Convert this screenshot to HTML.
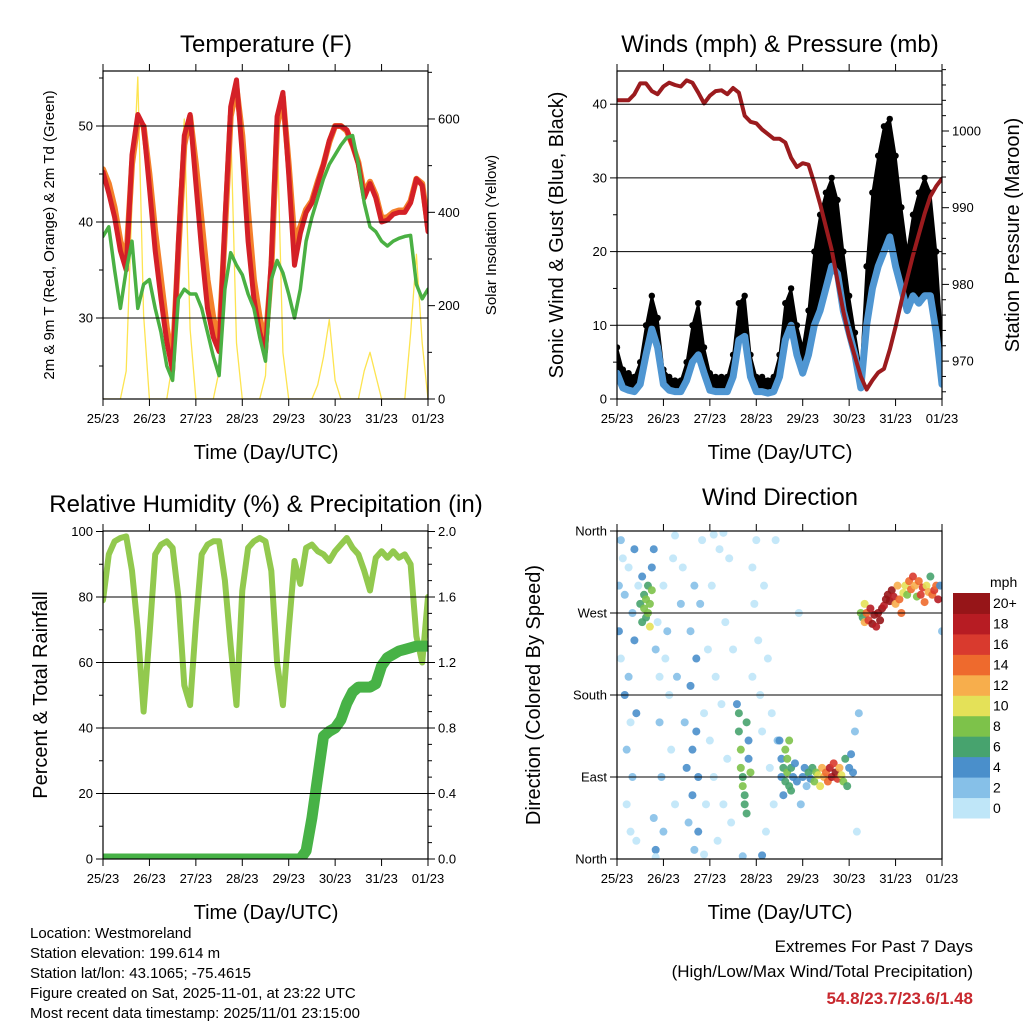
<!DOCTYPE html>
<html><head><meta charset="utf-8"><style>
html,body{margin:0;padding:0;background:#fff;}
svg{display:block;font-family:"Liberation Sans",sans-serif;}
</style></head><body>
<svg id="root" width="1024" height="1024" viewBox="0 0 1024 1024">
<defs>
<clipPath id="c1"><rect x="103" y="71" width="325" height="328"/></clipPath>
<clipPath id="c2"><rect x="617" y="71" width="325" height="328"/></clipPath>
<clipPath id="c3"><rect x="103" y="531" width="325" height="328"/></clipPath>
<clipPath id="c4"><rect x="617" y="531" width="325" height="328"/></clipPath>
</defs>
<g id="g1"></g>
<g id="g2"></g>
<g id="g3"></g>
<g id="g4"></g>
<text x="266" y="52" font-size="24" text-anchor="middle">Temperature (F)</text>
<text x="780" y="52" font-size="24" text-anchor="middle">Winds (mph) &amp; Pressure (mb)</text>
<text x="266" y="512" font-size="24" text-anchor="middle">Relative Humidity (%) &amp; Precipitation (in)</text>
<text x="780" y="505" font-size="24" text-anchor="middle">Wind Direction</text>
<text x="266" y="459" font-size="20" text-anchor="middle">Time (Day/UTC)</text>
<text x="780" y="459" font-size="20" text-anchor="middle">Time (Day/UTC)</text>
<text x="266" y="919" font-size="20" text-anchor="middle">Time (Day/UTC)</text>
<text x="780" y="919" font-size="20" text-anchor="middle">Time (Day/UTC)</text>
<text transform="translate(54,235) rotate(-90)" font-size="15" text-anchor="middle">2m &amp; 9m T (Red, Orange) &amp; 2m Td (Green)</text>
<text transform="translate(496,235) rotate(-90)" font-size="15" text-anchor="middle">Solar Insolation (Yellow)</text>
<text transform="translate(563,235) rotate(-90)" font-size="20" text-anchor="middle">Sonic Wind &amp; Gust (Blue, Black)</text>
<text transform="translate(1019,235) rotate(-90)" font-size="20" text-anchor="middle">Station Pressure (Maroon)</text>
<text transform="translate(47,695) rotate(-90)" font-size="20" text-anchor="middle">Percent &amp; Total Rainfall</text>
<text transform="translate(540,695) rotate(-90)" font-size="20" text-anchor="middle">Direction (Colored By Speed)</text>
<g font-size="15">
<text x="30" y="938">Location: Westmoreland</text>
<text x="30" y="958">Station elevation: 199.614 m</text>
<text x="30" y="978">Station lat/lon: 43.1065; -75.4615</text>
<text x="30" y="998">Figure created on Sat, 2025-11-01, at 23:22 UTC</text>
<text x="30" y="1018">Most recent data timestamp: 2025/11/01 23:15:00</text>
</g>
<g text-anchor="end">
<text x="973" y="952" font-size="17">Extremes For Past 7 Days</text>
<text x="973" y="977" font-size="17">(High/Low/Max Wind/Total Precipitation)</text>
<text x="973" y="1004" font-size="17" font-weight="bold" fill="#c8282e">54.8/23.7/23.6/1.48</text>
</g>
<g id="cbar"></g>
</svg>
<script>
// hours at 3-hour steps from 25/23 UTC
const hours = [];
for (let i = 0; i <= 56; i++) hours.push(i * 3);
const dayLabels = ["25/23","26/23","27/23","28/23","29/23","30/23","31/23","01/23"];
const temp2m = [45.2,43.0,40.5,37.0,35.0,47,51.2,50,43.6,37,32,27.5,24.5,38,49,51.2,44,37,31,28,26.5,40,52,54.8,47,38,32,28.5,26.5,36,51,53.5,45,35.5,38.8,41,42,44,46,48.5,50,50,49.6,48,46,42.5,44,42.5,40,40.2,40.8,41,41,42,44.5,43.8,39];
const temp9m = [45.5,44.0,41.5,38.0,36.0,46,50.5,50,45,39,34,29,25.5,37,48,51,46,40,34,30,27.5,39,51,54,49,41,34,30,27.5,35,50,53,46,38,39.5,41.3,42.2,44.2,46,48.3,50,50,49.5,48,46.2,43,44.2,42.8,40.4,40.5,41,41.2,41.2,42.2,44.5,44,39.5];
const dewpt = [38.5,39.5,35,31,35,38,31,33.5,34,31,28.5,25,23.5,32,33,32.5,32.5,31,28.5,26,24,33,36.8,35.5,34.5,32.5,31,28,25.5,34,36,34.7,32.5,30,33,38,40.5,42.5,44.5,46,47,48,48.8,49,46,42,39.5,39,38,37.5,38,38.3,38.5,38.6,33.5,32,33];
const solar = [0,0,0,0,60,420,690,180,0,0,0,0,80,420,600,150,0,0,0,0,60,380,590,120,0,0,0,0,50,330,580,100,0,0,0,0,0,30,90,170,40,0,0,0,0,60,100,50,0,0,0,0,0,140,310,120,0];
const windSpd = [3.5,1.5,1.2,1.0,2.0,6,9.5,7,2,1.2,1.0,1.0,2.5,5,6,3.5,1.2,1.0,1.0,1.0,3,8,8.5,3,1.0,1.0,0.8,1.0,3,8,10,6,3.5,6,10,12,15,18,17,12,9,6,1.5,10,15,18,20,22,18,15,12,14,13,14,14,9,2];
const gustSpd = [7,4,3.5,3,5,10,14,11,4,3,2.5,2.5,5,10,13,7,3.5,3,3,3,6,13,14,6,3,3,2.5,3,6,13,15,10,7,12,20,25,28,30,27,20,14,9,4,18,28,33,37,38,33,26,20,25,28,30,28,20,8];
const pressure = [1004.0,1004.0,1004.0,1004.8,1006.2,1006.2,1005.2,1004.8,1005.8,1006.3,1006.0,1005.8,1006.6,1006.3,1005.0,1003.6,1004.6,1005.2,1005.3,1004.8,1005.6,1005.0,1002.0,1001.2,1001.0,1000.2,999.6,999.0,999.0,998.5,996.5,995.3,995.8,995.6,993.2,990.5,987.5,984.5,980.5,976.5,973.2,970.6,968.0,966.3,967.5,968.5,969.0,971.5,974.5,977.8,980.8,983.8,986.5,989.2,991.5,992.8,993.8];
const relHum = [79,93,97,98,98.5,88,70,45,68,93,96,97,95,80,53,47,72,93,96,97,97,85,65,47,82,95,97,98,97,88,60,47,70,91,84,95,96,94,93,91,94,96,98,95,93,88,82,92,94,92,94,92,93,90,68,60,80];
const rainTotal = [0,0,0,0,0,0,0,0,0,0,0,0,0,0,0,0,0,0,0,0,0,0,0,0,0,0,0,0,0,0,0,0,0,0,0,0.05,0.25,0.5,0.75,0.78,0.8,0.85,0.95,1.02,1.05,1.05,1.05,1.07,1.18,1.23,1.25,1.27,1.28,1.29,1.3,1.3,1.3];
// wind direction observations: hour, direction (deg), speed (mph)
const dirHour = [1,1,2,2,3,4,4,5,5,6,6,7,7,8,8,9,9,10,10,11,12,13,13,14,14,15,15,16,16,17,17,18,18,19,19,20,20,21,22,22,23,24,24,25,26,27,28,29,30,31,33,34,35,36,37,38,38,39,39,40,40,41,41,42,42,43,44,45,46,47,48,49,50,51,52,53,54,55,56,57,58,59,60,62,63,63,64,64,65,65,66,66,67,67,68,68,69,70,70,71,72,73,74,75,76,77,78,79,80,81,82,83,84,85,85,86,86,87,87,88,88,89,89,90,90,91,92,93,94,95,96,97,98,99,100,101,102,103,104,105,106,107,108,109,110,111,112,113,114,115,116,117,118,119,120,121,122,123,124,125,126,127,128,128,129,130,131,132,133,134,135,136,137,138,139,140,141,142,143,144,145,146,147,148,149,150,151,152,153,154,155,156,157,158,159,160,161,162,163,164,165,166,167,168,30,45,55,65,20,50,75];
const dirDeg = [300,250,350,220,330,290,180,120,60,320,200,150,30,270,90,340,240,20,160,300,280,310,260,275,290,285,265,300,270,280,255,320,295,340,45,10,230,260,200,150,90,300,30,220,250,180,120,330,60,200,280,320,150,100,40,250,190,120,70,300,10,220,140,90,30,280,350,160,60,230,130,300,90,200,20,340,170,60,260,110,330,40,230,170,160,140,120,100,90,80,70,60,50,150,110,130,95,200,320,280,350,240,180,140,300,30,220,100,160,60,350,130,130,110,90,100,70,120,85,110,95,80,130,100,75,90,105,85,270,60,90,100,80,95,88,100,85,95,92,80,100,90,95,85,100,90,105,95,88,100,92,85,110,80,100,115,95,140,30,160,270,265,280,260,270,262,275,258,268,255,270,262,275,278,285,290,283,295,288,280,300,285,270,292,300,290,305,296,310,300,288,305,290,298,282,300,293,310,290,295,300,285,300,250,355,5,358,3,2,356,4];
const dirSpd = [3,4,2,1,1,3,4,2,1,1,2,1,1,3,2,5,4,1,4,1,6,4,7,8,7,9,6,7,8,9,10,4,8,4,2,5,2,1,1,2,3,1,2,1,2,1,1,1,1,2,2,1,3,4,3,3,4,4,4,3,3,4,5,4,4,2,1,1,1,1,1,1,1,1,1,1,1,1,1,1,1,1,1,4,6,7,8,8,7,8,6,7,6,7,5,4,8,1,1,1,1,1,1,1,1,1,1,1,1,1,1,2,4,5,4,7,5,8,7,9,8,6,8,7,7,5,4,4,1,2,5,4,3,6,5,7,8,9,10,11,13,12,14,15,18,19,17,20,16,13,11,8,6,6,5,4,4,3,1,2,9,6,11,13,14,16,18,20,20,19,20,21,20,19,20,21,20,20,19,12,13,14,15,11,10,8,14,15,16,12,9,14,17,16,15,11,13,6,14,16,15,18,4,3,1,1,1,2,1,1,4];
const speedBins = ["0","2","4","6","8","10","12","14","16","18","20+"];
const binColors = ["#bfe6f8","#86c0e8","#4a8fcb","#47a36e","#7dc24a","#e4e158","#f7ae4c","#ee6a2d","#d93a2e","#b71c23","#961518"];

const NS = "http://www.w3.org/2000/svg";
function mk(tag, attrs, parent) {
  const e = document.createElementNS(NS, tag);
  for (const k in attrs) e.setAttribute(k, attrs[k]);
  parent.appendChild(e);
  return e;
}
const X0L = 103, X0R = 617, PW = 325;
function xAt(x0, h) { return x0 + h * PW / 168; }
function poly(x0, ys, yf, parent, stroke, w, clip, name) {
  const pts = hours.map((h, i) => xAt(x0, h).toFixed(1) + "," + yf(ys[i]).toFixed(1)).join(" ");
  const e = mk("polyline", {points: pts, fill: "none", stroke: stroke, "stroke-width": w, "stroke-linejoin": "round", "stroke-linecap": "round", "clip-path": clip}, parent);
  
  
  return e;
}
function frame(x0, y0, parent, leftTicks, yf, rightTicks, yr, xlabels, gridVals) {
  gridVals.forEach(v => {
    const l = mk("line", {x1: x0, x2: x0 + PW, y1: yf(v), y2: yf(v), stroke: "#000", "stroke-width": 1}, parent);
    
    
  });
  leftTicks.forEach(t => {
    const y = yf(t.v);
    mk("line", {x1: x0 - (t.l ? 7 : 4), x2: x0, y1: y, y2: y, stroke: "#000", "stroke-width": 1}, parent);
    if (t.l) {
      const tx = mk("text", {x: x0 - 10, y: y + 4.5, "font-size": 13, "text-anchor": "end"}, parent);
      tx.textContent = t.l;
      
      
    }
  });
  rightTicks.forEach(t => {
    const y = yr(t.v);
    mk("line", {x1: x0 + PW, x2: x0 + PW + (t.l ? 7 : 4), y1: y, y2: y, stroke: "#000", "stroke-width": 1}, parent);
    if (t.l) {
      const tx = mk("text", {x: x0 + PW + 10, y: y + 4.5, "font-size": 13}, parent);
      tx.textContent = t.l;
      
      
    }
  });
  xlabels.forEach((lab, i) => {
    const x = x0 + i * PW / 7;
    mk("line", {x1: x, x2: x, y1: y0 + 328, y2: y0 + 335, stroke: "#000"}, parent);
    mk("line", {x1: x, x2: x, y1: y0, y2: y0 - 7, stroke: "#000"}, parent);
    const tx = mk("text", {x: x, y: y0 + 352, "font-size": 13, "text-anchor": "middle"}, parent);
    tx.textContent = lab;
    
    
  });
  const r = mk("rect", {x: x0, y: y0, width: PW, height: 328, fill: "none", stroke: "#000", "stroke-width": 1.2}, parent);
  
  
}

// Panel 1
const g1 = document.getElementById("g1");
const yT = v => 126 - (v - 50) * 9.6;
const ySol = v => 399 - v * 0.4667;
poly(X0L, solar, ySol, g1, "#fde450", 1.3, "url(#c1)", "solar-line");
poly(X0L, temp9m, yT, g1, "#f4802b", 6, "url(#c1)", "temp-9m-line");
poly(X0L, temp2m, yT, g1, "#d42027", 5, "url(#c1)", "temp-2m-line");
poly(X0L, dewpt, yT, g1, "#4ab043", 3.5, "url(#c1)", "dewpoint-line");
frame(X0L, 71, g1,
  [{v:25},{v:30,l:"30"},{v:35},{v:40,l:"40"},{v:45},{v:50,l:"50"},{v:55}], yT,
  [{v:0,l:"0"},{v:100},{v:200,l:"200"},{v:300},{v:400,l:"400"},{v:500},{v:600,l:"600"},{v:700}], ySol,
  dayLabels, [30,40,50]);

// Panel 2
const g2 = document.getElementById("g2");
const yW = v => 399 - v * 7.37;
const yP = p => 131 + (1000 - p) * 7.67;
(function(){
  let d = "";
  hours.forEach((h, i) => { d += (i ? "L" : "M") + xAt(X0R, h).toFixed(1) + "," + yW(gustSpd[i]).toFixed(1); });
  for (let i = hours.length - 1; i >= 0; i--) d += "L" + xAt(X0R, hours[i]).toFixed(1) + "," + yW(windSpd[i]).toFixed(1);
  const a = mk("path", {d: d + "Z", fill: "#000", stroke: "#000", "stroke-width": 2, "stroke-linejoin": "round", "clip-path": "url(#c2)"}, g2);
  
  
  hours.forEach((h, i) => {
    const c = mk("circle", {cx: xAt(X0R, h), cy: yW(gustSpd[i]), r: 3.2, fill: "#000", "clip-path": "url(#c2)"}, g2);
    
    
  });
})();
poly(X0R, windSpd, yW, g2, "#4f96d2", 7, "url(#c2)", "wind-line");
poly(X0R, pressure, yP, g2, "#9b1b1e", 4, "url(#c2)", "pressure-line");
const pT = [];
for (let p = 966; p <= 1008; p += 2) pT.push({v: p, l: (p % 10 === 0) ? String(p) : undefined});
frame(X0R, 71, g2,
  [{v:0,l:"0"},{v:5},{v:10,l:"10"},{v:15},{v:20,l:"20"},{v:25},{v:30,l:"30"},{v:35},{v:40,l:"40"}], yW,
  pT, yP, dayLabels, [10,20,30,40]);

// Panel 3
const g3 = document.getElementById("g3");
const yR = v => 859 - v * 3.275;
const yIn = v => 859 - v * 163.75;
poly(X0L, relHum, yR, g3, "#92c94e", 6, "url(#c3)", "humidity-line");
poly(X0L, rainTotal, yIn, g3, "#47b246", 11, "url(#c3)", "rainfall-line");
const rT = [];
for (let k = 0; k <= 20; k++) { const v = k * 0.1; rT.push({v: v, l: (k % 4 === 0) ? v.toFixed(1) : undefined}); }
frame(X0L, 531, g3,
  [{v:0,l:"0"},{v:10},{v:20,l:"20"},{v:30},{v:40,l:"40"},{v:50},{v:60,l:"60"},{v:70},{v:80,l:"80"},{v:90},{v:100,l:"100"}], yR,
  rT, yIn, dayLabels, [20,40,60,80]);

// Panel 4
const g4 = document.getElementById("g4");
const yD = d => 859 - d * 328 / 360;
function binOf(s) { return Math.max(0, Math.min(10, Math.floor(s / 2))); }
dirHour.forEach((h, i) => {
  const c = mk("circle", {cx: xAt(X0R, h), cy: yD(dirDeg[i]), r: 4, fill: binColors[binOf(dirSpd[i])], "fill-opacity": 0.9, "clip-path": "url(#c4)"}, g4);
  
  
});
frame(X0R, 531, g4,
  [{v:0,l:"North"},{v:90,l:"East"},{v:180,l:"South"},{v:270,l:"West"},{v:360,l:"North"}], yD,
  [], yD, dayLabels, [90,180,270]);

// Colorbar
const cb = document.getElementById("cbar");
const cbTop = 593, cbH = 225 / 11;
const tl = mk("text", {x: 990, y: 587, "font-size": 14}, cb);
tl.textContent = "mph";


speedBins.forEach((lab, i) => {
  const y = cbTop + (10 - i) * cbH;
  const r = mk("rect", {x: 953, y: y, width: 37, height: cbH + 0.5, fill: binColors[i]}, cb);
  
  
  const t = mk("text", {x: 993, y: y + cbH / 2 + 5, "font-size": 14}, cb);
  t.textContent = lab;
  
  
});
</script>
</body></html>
